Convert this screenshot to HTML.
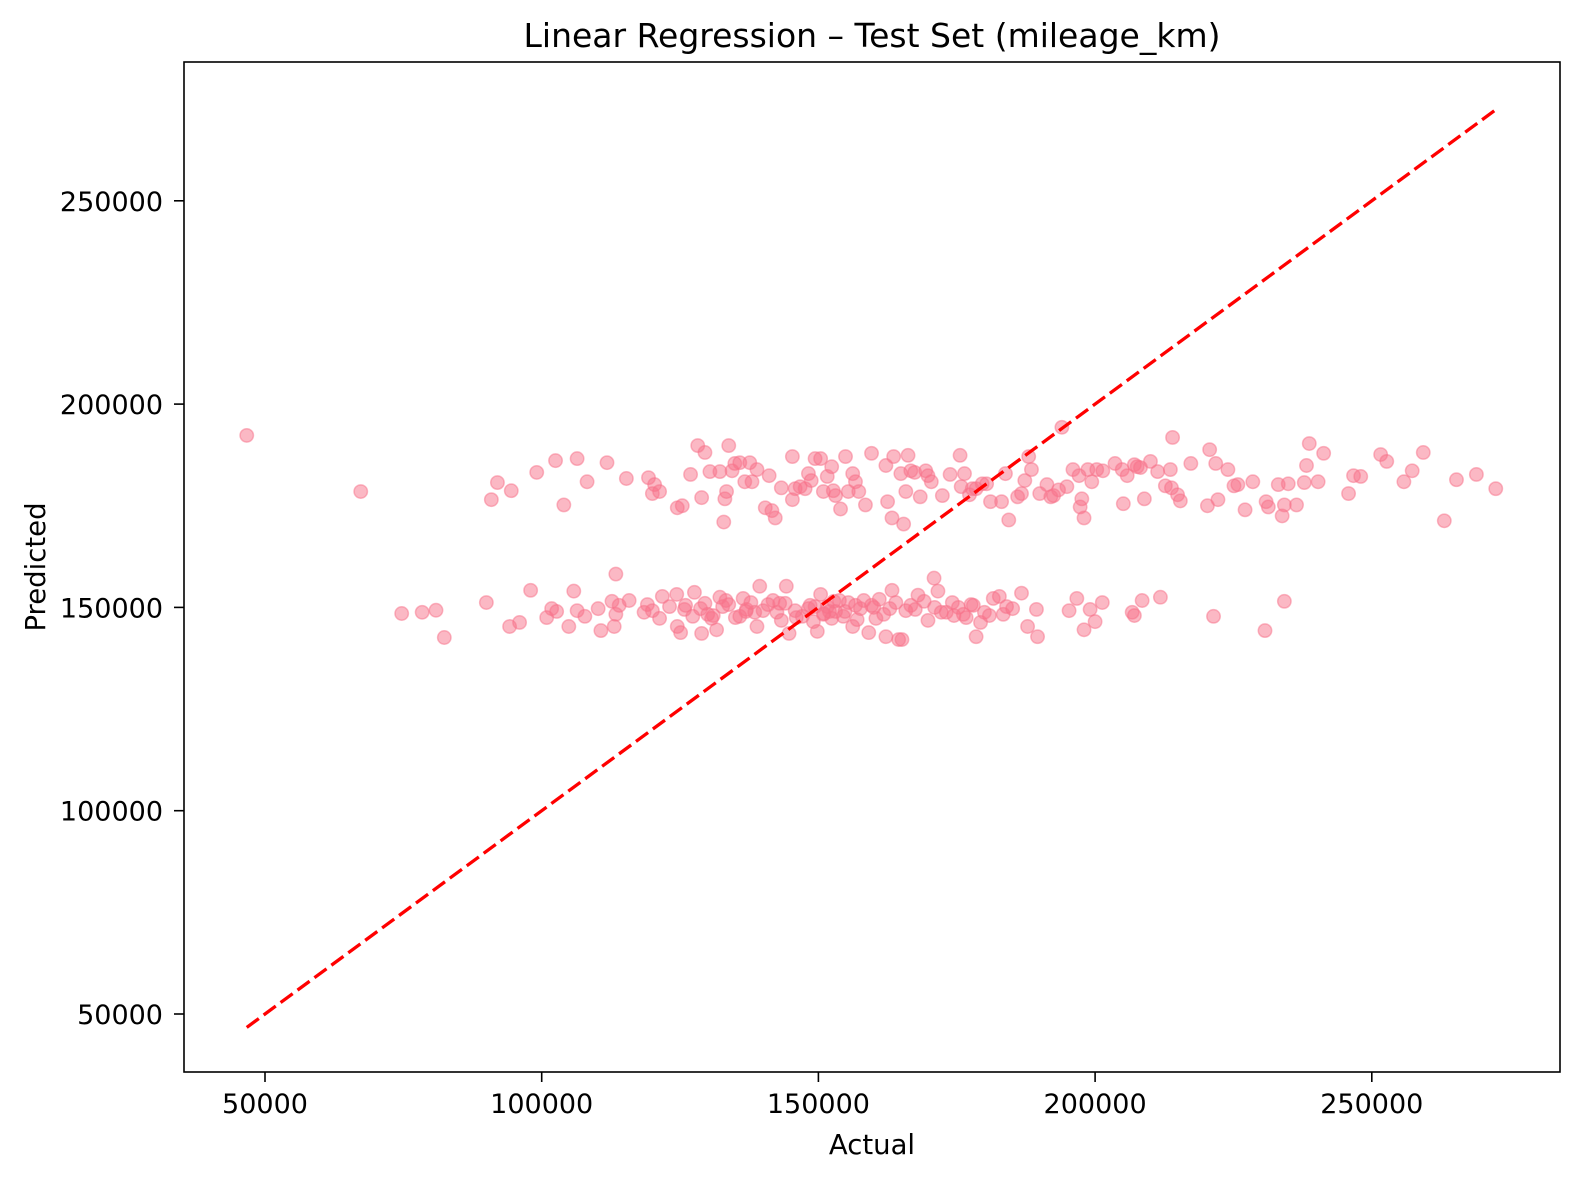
<!DOCTYPE html>
<html><head><meta charset="utf-8"><style>
html,body{margin:0;padding:0;background:#fff;overflow:hidden;}
svg{display:block;}
svg text{font-family:"DejaVu Sans","Liberation Sans",sans-serif;fill:#000;}
</style></head><body>
<svg id="chart" width="1580" height="1180" viewBox="0 0 1580 1180">
<rect width="1580" height="1180" fill="#fff"/>
<text x="872" y="47" font-size="33" text-anchor="middle">Linear Regression – Test Set (mileage_km)</text>
<g id="ticks"></g>
<g id="points"></g>
<g id="refline"></g>
<rect x="184" y="62" width="1376" height="1010" fill="none" stroke="#000" stroke-width="1.6"/>
<text x="872" y="1154" font-size="27.5" text-anchor="middle">Actual</text>
<text x="45" y="567" font-size="27.5" text-anchor="middle" transform="rotate(-90 45 567)">Predicted</text>
</svg>
<script>
const xTicks = [50000, 100000, 150000, 200000, 250000];
const yTicks = [50000, 100000, 150000, 200000, 250000];
const lineRange = [46700, 272400];
const actualK = [46.7,67.3,74.7,78.4,80.9,82.4,
90.9,92.0,94.5,99.1,102.5,104.0,106.4,108.2,111.8,115.3,119.3,120.0,120.4,121.3,124.5,125.4,126.9,128.2,128.9,129.5,130.4,132.2,132.9,133.1,133.4,133.8,134.4,134.9,135.8,136.7,137.6,138.0,138.9,140.4,141.1,141.6,142.2,143.3,145.3,145.3,145.8,146.7,147.6,148.2,148.7,149.4,150.4,150.9,151.6,152.4,152.7,153.1,154.0,154.9,155.4,156.2,156.7,157.3,158.5,159.6,162.2,162.5,163.3,163.6,164.9,165.4,165.8,166.2,166.7,167.4,168.4,169.4,169.8,170.4,172.4,173.8,175.6,175.8,176.4,177.3,177.8,178.5,179.6,180.4,181.1,183.1,183.8,184.4,186.0,186.7,187.3,188.0,188.5,190.0,191.3,192.0,192.5,193.4,194.0,194.9,196.0,197.1,197.6,197.3,198.0,198.7,199.4,200.3,201.4,203.6,204.9,205.1,205.8,207.1,207.6,208.2,208.9,210.0,211.3,212.7,213.6,213.8,214.0,214.9,215.4,217.3,220.3,220.7,221.8,222.2,224.0,225.1,225.8,227.1,228.5,230.9,231.3,233.1,233.8,234.2,234.9,236.4,237.8,238.2,238.7,240.3,241.3,245.8,246.7,248.0,251.6,252.7,255.8,257.3,259.3,263.1,265.3,268.9,272.4,
90.0,94.2,96.0,98.0,100.9,101.8,102.7,104.9,105.8,106.4,107.8,110.2,110.7,112.7,113.1,113.4,113.4,114.0,115.8,118.5,119.1,120.0,121.3,121.8,123.1,124.4,124.5,125.1,125.8,127.3,127.6,128.7,128.9,130.0,130.7,131.6,132.2,132.7,133.3,133.8,135.8,136.4,136.9,137.8,138.5,138.9,139.4,140.0,140.9,141.8,142.5,143.3,144.2,144.7,145.8,147.1,148.2,149.1,149.4,149.8,150.4,150.9,151.6,152.4,153.1,153.8,154.5,155.4,156.2,156.7,157.6,158.2,159.1,159.6,160.4,161.8,162.2,162.9,163.3,164.0,164.5,165.1,165.8,166.7,168.0,169.1,169.8,170.9,171.6,172.2,173.1,174.2,175.3,176.2,176.7,177.6,178.5,179.3,180.0,180.9,181.6,182.7,183.4,184.0,185.1,186.7,187.8,189.4,189.6,195.3,196.7,198.0,199.1,200.0,201.3,206.7,207.1,208.5,211.8,221.4,230.7,234.2,
126.0,131.0,137.0,143.0,146.0,148.5,151.0,152.8,154.8,157.0,160.0,161.0,167.5,171.0,174.5,178.0,144.0,152.0,135.0,129.5];
const predictedK = [192.3,178.5,148.5,148.8,149.3,142.6,
176.5,180.7,178.7,183.2,186.1,175.2,186.6,180.9,185.6,181.7,181.9,178.0,180.2,178.5,174.5,175.0,182.7,189.8,177.0,188.1,183.4,183.4,171.0,176.7,178.5,189.8,183.6,185.4,185.6,180.9,185.6,180.9,183.9,174.5,182.4,173.8,172.0,179.4,187.1,176.5,179.2,179.7,179.2,182.9,181.2,186.6,186.6,178.5,182.2,184.6,178.7,177.5,174.2,187.1,178.5,182.9,180.9,178.5,175.2,187.9,184.9,176.0,172.0,187.1,182.9,170.5,178.5,187.4,183.6,183.2,177.2,183.6,182.4,180.9,177.5,182.7,187.4,179.7,182.9,177.7,179.2,179.2,180.4,180.4,176.0,176.0,182.9,171.5,177.2,178.0,181.2,187.1,183.9,178.0,180.2,177.2,177.5,178.9,194.3,179.7,183.9,182.4,176.7,174.7,172.0,183.9,180.9,183.9,183.6,185.4,183.9,175.5,182.4,185.1,184.6,184.4,176.7,185.9,183.4,179.9,183.9,179.4,191.8,177.7,176.2,185.4,175.0,188.8,185.4,176.5,183.9,179.9,180.2,174.0,180.9,176.0,174.7,180.2,172.5,175.2,180.4,175.2,180.7,184.9,190.3,180.9,187.9,178.0,182.4,182.2,187.6,185.9,180.9,183.6,188.1,171.3,181.4,182.7,179.2,
151.2,145.3,146.3,154.2,147.5,149.7,149.0,145.3,154.0,149.2,147.8,149.7,144.3,151.5,145.3,158.2,148.3,150.5,151.7,148.8,150.7,149.2,147.3,152.7,150.2,153.2,145.3,143.8,149.5,147.8,153.7,149.7,143.6,148.3,147.3,144.5,152.5,150.2,151.7,150.7,147.8,152.2,149.0,151.2,148.8,145.3,155.2,149.2,150.7,151.7,148.8,146.8,155.2,143.6,149.2,147.8,149.7,146.5,150.2,144.1,153.2,148.3,150.2,147.3,149.0,151.7,147.8,151.2,145.3,150.5,149.7,151.7,143.8,150.5,147.3,148.3,142.8,149.7,154.2,151.2,142.1,142.1,149.2,150.5,153.0,151.5,146.8,157.2,154.0,148.8,148.8,151.2,150.0,148.3,147.5,150.7,142.8,146.3,148.8,148.0,152.2,152.7,148.3,150.2,149.7,153.5,145.3,149.5,142.8,149.2,152.2,144.5,149.5,146.5,151.2,148.8,148.0,151.7,152.5,147.8,144.3,151.5,
150.5,148.0,149.5,151.0,147.5,150.5,148.5,151.5,149.0,147.0,150.0,152.0,149.5,150.0,148.0,150.5,151.0,149.0,147.5,151.0];
const actual = actualK.map(v => v * 1000);
const predicted = predictedK.map(v => v * 1000);

const X0 = 265, XS = 276.7 / 50000;
const Y0 = 1014, YS = 203.3 / 50000;
function xScale(v){ return X0 + (v - 50000) * XS; }
function yScale(v){ return Y0 - (v - 50000) * YS; }
const NS = 'http://www.w3.org/2000/svg';

const tg = document.getElementById('ticks');
xTicks.forEach(t => {
  const x = xScale(t);
  const l = document.createElementNS(NS,'line');
  l.setAttribute('x1',x); l.setAttribute('x2',x); l.setAttribute('y1',1072); l.setAttribute('y2',1082);
  l.setAttribute('stroke','#000'); l.setAttribute('stroke-width','1.6');
  
  
  tg.appendChild(l);
  const tx = document.createElementNS(NS,'text');
  tx.setAttribute('x',x); tx.setAttribute('y',1113); tx.setAttribute('font-size','27'); tx.setAttribute('text-anchor','middle');
  tx.textContent = t;
  
  
  tg.appendChild(tx);
});
yTicks.forEach(t => {
  const y = yScale(t);
  const l = document.createElementNS(NS,'line');
  l.setAttribute('x1',174); l.setAttribute('x2',184); l.setAttribute('y1',y); l.setAttribute('y2',y);
  l.setAttribute('stroke','#000'); l.setAttribute('stroke-width','1.6');
  
  
  tg.appendChild(l);
  const tx = document.createElementNS(NS,'text');
  tx.setAttribute('x',163); tx.setAttribute('y',y+10); tx.setAttribute('font-size','27'); tx.setAttribute('text-anchor','end');
  tx.textContent = t;
  
  
  tg.appendChild(tx);
});

const pg = document.getElementById('points');
for (let i = 0; i < actual.length; i++) {
  const c = document.createElementNS(NS,'circle');
  c.setAttribute('cx', xScale(actual[i]));
  c.setAttribute('cy', yScale(predicted[i]));
  c.setAttribute('r', 6.7);
  c.setAttribute('fill', 'rgba(247,113,137,0.5)');
  c.setAttribute('stroke', 'rgba(247,113,137,0.5)');
  c.setAttribute('stroke-width', '1.5');
  
  
  pg.appendChild(c);
}

const rl = document.createElementNS(NS,'line');
rl.setAttribute('x1', xScale(lineRange[0])); rl.setAttribute('y1', yScale(lineRange[0]));
rl.setAttribute('x2', xScale(lineRange[1])); rl.setAttribute('y2', yScale(lineRange[1]));
rl.setAttribute('stroke', '#ff0000'); rl.setAttribute('stroke-width', '3.3');
rl.setAttribute('stroke-dasharray', '15,6');


document.getElementById('refline').appendChild(rl);
</script>
</body></html>
